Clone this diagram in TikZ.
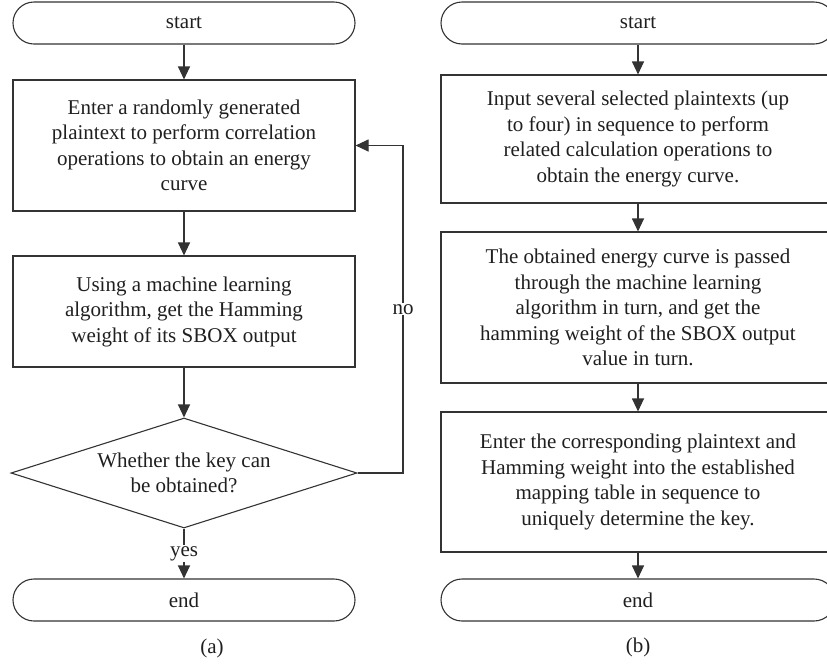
\documentclass[tikz,border=0pt]{standalone}
\usepackage{fontspec}
\setmainfont{Liberation Serif}
\usetikzlibrary{arrows.meta,shapes.geometric}
\begin{document}
\begin{tikzpicture}[x=1pt,y=-1pt,
  every node/.style={font=\fontsize{21}{25.5}\selectfont, text=black!88},
  flow/.style={draw=black!80, line width=1.1pt},
  term/.style={flow, rectangle, rounded corners=21pt, minimum height=42pt, inner sep=0pt},
  procbox/.style={flow, rectangle, align=center, inner sep=0pt},
  decide/.style={flow, diamond, aspect=3.15, inner sep=0pt, align=center,
                 minimum width=346pt, minimum height=110pt},
  link/.style={draw=black!80, line width=1.1pt, -{Triangle[length=13pt,width=12pt]}},
  tag/.style={fill=white, inner sep=1pt}
]
\useasboundingbox (0,0) rectangle (827,665);

% ---- flow (a): loop until the key is found ----
\node[term, minimum width=342pt] (sa) at (184,23) {start};
\node[procbox, minimum width=342pt, minimum height=131pt] (a1) at (184,145.5)
  {Enter a randomly generated\\plaintext to perform correlation\\operations to obtain an energy\\curve};
\node[procbox, minimum width=342pt, minimum height=111pt] (a2) at (184,311.5)
  {Using a machine learning\\algorithm, get the Hamming\\weight of its SBOX output};
\node[decide] (a3) at (184,473) {Whether the key can\\be obtained?};
\node[term, minimum width=342pt] (ea) at (184,600) {end};
\node (capa) at (212,648) {(a)};
\coordinate (rail) at (403,0);

\draw[link] (sa) -- (a1);
\draw[link] (a1) -- (a2);
\draw[link] (a2) -- (a3);
\draw[link] (a3) -- node[tag] {yes} (ea);
\draw[link] (a3.east) -| node[tag, pos=0.75] {no} (rail |- a1.east) -- (a1.east);

% ---- flow (b): chosen plaintexts and mapping table ----
\node[term, minimum width=394pt] (sb) at (638,23) {start};
\node[procbox, minimum width=394pt, minimum height=128pt] (b1) at (638,139)
  {Input several selected plaintexts (up\\to four) in sequence to perform\\related calculation operations to\\obtain the energy curve.};
\node[procbox, minimum width=394pt, minimum height=151pt] (b2) at (638,307.5)
  {The obtained energy curve is passed\\through the machine learning\\algorithm in turn, and get the\\hamming weight of the SBOX output\\value in turn.};
\node[procbox, minimum width=394pt, minimum height=140pt] (b3) at (638,482)
  {Enter the corresponding plaintext and\\Hamming weight into the established\\mapping table in sequence to\\uniquely determine the key.};
\node[term, minimum width=394pt] (eb) at (638,600) {end};
\node (capb) at (638,647) {(b)};

\draw[link] (sb) -- (b1);
\draw[link] (b1) -- (b2);
\draw[link] (b2) -- (b3);
\draw[link] (b3) -- (eb);
\end{tikzpicture}
\end{document}
